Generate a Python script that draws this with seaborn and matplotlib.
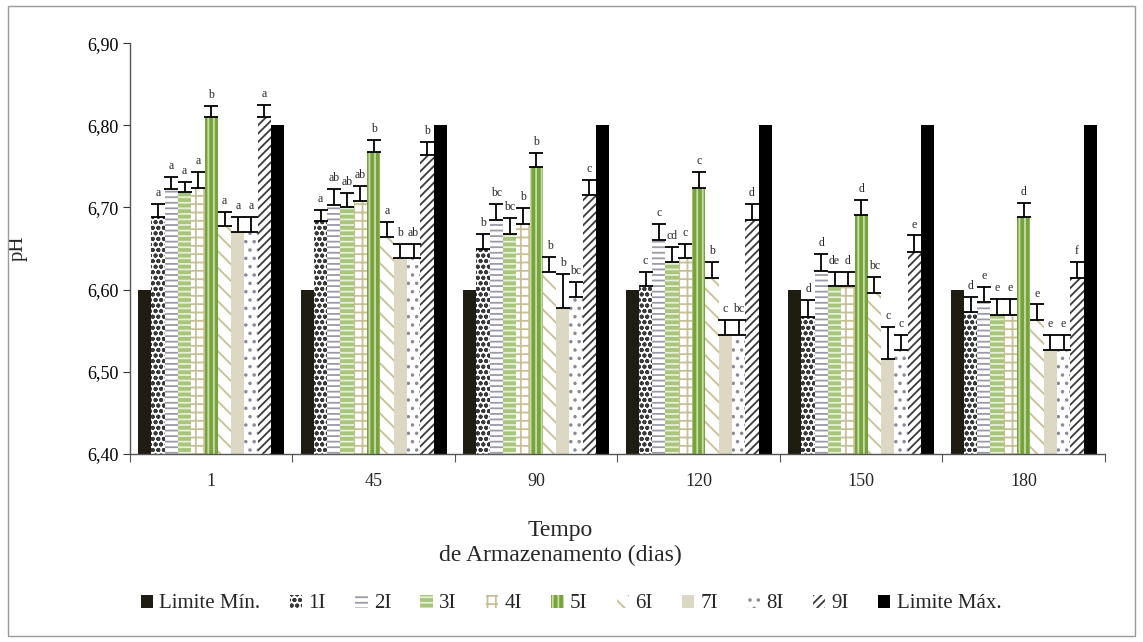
import numpy as np
import pandas as pd
import matplotlib
matplotlib.use("Agg")
import matplotlib.pyplot as plt
import seaborn as sns
from matplotlib.patches import Patch, Rectangle
from matplotlib.ticker import FuncFormatter

# dados
dias = ["1", "45", "90", "120", "150", "180"]
series = ["Limite Mín.", "1I", "2I", "3I", "4I", "5I", "6I", "7I", "8I", "9I", "Limite Máx."]

lim_min = [6.60, 6.60, 6.60, 6.60, 6.60, 6.60]
lim_max = [6.80, 6.80, 6.80, 6.80, 6.80, 6.80]
v_1I = [6.689, 6.683, 6.650, 6.604, 6.567, 6.573]
v_2I = [6.723, 6.703, 6.685, 6.661, 6.623, 6.585]
v_3I = [6.719, 6.700, 6.668, 6.634, 6.604, 6.569]
v_4I = [6.724, 6.708, 6.680, 6.638, 6.604, 6.569]
v_5I = [6.810, 6.768, 6.749, 6.724, 6.691, 6.689]
v_6I = [6.677, 6.664, 6.621, 6.614, 6.596, 6.563]
v_7I = [6.670, 6.638, 6.578, 6.545, 6.516, 6.527]
v_8I = [6.670, 6.638, 6.591, 6.545, 6.527, 6.527]
v_9I = [6.810, 6.764, 6.715, 6.685, 6.646, 6.614]

e_1I = [0.015, 0.014, 0.018, 0.018, 0.020, 0.018]
e_2I = [0.014, 0.019, 0.019, 0.019, 0.020, 0.018]
e_3I = [0.012, 0.018, 0.019, 0.018, 0.018, 0.020]
e_4I = [0.019, 0.018, 0.019, 0.018, 0.018, 0.020]
e_5I = [0.013, 0.014, 0.017, 0.019, 0.018, 0.017]
e_6I = [0.018, 0.018, 0.019, 0.020, 0.019, 0.019]
e_7I = [0.019, 0.018, 0.041, 0.018, 0.039, 0.018]
e_8I = [0.019, 0.018, 0.018, 0.018, 0.018, 0.018]
e_9I = [0.015, 0.016, 0.018, 0.019, 0.020, 0.020]

l_1I = ["a", "a", "b", "c", "d", "d"]
l_2I = ["a", "ab", "bc", "c", "d", "e"]
l_3I = ["a", "ab", "bc", "cd", "de", "e"]
l_4I = ["a", "ab", "b", "c", "d", "e"]
l_5I = ["b", "b", "b", "c", "d", "d"]
l_6I = ["a", "a", "b", "b", "bc", "e"]
l_7I = ["a", "b", "b", "c", "c", "e"]
l_8I = ["a", "ab", "bc", "bc", "c", "e"]
l_9I = ["a", "b", "c", "d", "e", "f"]

valores = [lim_min, v_1I, v_2I, v_3I, v_4I, v_5I, v_6I, v_7I, v_8I, v_9I, lim_max]
erros = [None, e_1I, e_2I, e_3I, e_4I, e_5I, e_6I, e_7I, e_8I, e_9I, None]
letras = [None, l_1I, l_2I, l_3I, l_4I, l_5I, l_6I, l_7I, l_8I, l_9I, None]

# estilo de cada serie: (cor de fundo, cor da hachura, hachura)
estilos = [
    ("#1f1d12", "#1f1d12", ""),
    ("white", "#3a3a3a", "ooo"),
    ("white", "#9a9aa8", "---"),
    ("#a8c57c", "#e6f0d6", "---"),
    ("white", "#c9bf95", "++"),
    ("#77a33c", "#c8dcaa", "|||"),
    ("white", "#c9bf95", "\\\\"),
    ("#ddd8c4", "#ddd8c4", ""),
    ("white", "#8a8a9a", ".."),
    ("white", "#3a3a3a", "////"),
    ("#000000", "#000000", ""),
]

linhas = []
for s, vals in zip(series, valores):
    for d, v in zip(dias, vals):
        linhas.append({"dias": d, "serie": s, "pH": v})
df = pd.DataFrame(linhas)

plt.rcParams["hatch.linewidth"] = 1.3
sns.set_style("white")
plt.rcParams["font.family"] = ["Liberation Serif", "DejaVu Serif"]

fig = plt.figure(figsize=(11.43, 6.42), dpi=100)
ax = fig.add_axes([0.1137, 0.2928, 0.853, 0.640])

sns.barplot(data=df, x="dias", y="pH", hue="serie", order=dias, hue_order=series,
            errorbar=None, width=0.9, ax=ax, legend=False)

barras = list(ax.containers)
for i, cont in enumerate(barras):
    fc, hc, h = estilos[i]
    for p in cont.patches:
        p.set_facecolor(fc)
        p.set_edgecolor(hc)
        p.set_hatch(h)
        p.set_linewidth(0)
    if erros[i] is None:
        continue
    xs = [p.get_x() + p.get_width() / 2 for p in cont.patches]
    ys = [p.get_height() for p in cont.patches]
    err = np.array(erros[i])
    ax.errorbar(xs, ys, yerr=[np.zeros_like(err), err], fmt="none",
                ecolor="black", elinewidth=1.3, capsize=5, capthick=1.3, zorder=5)
    for x, y, e, t in zip(xs, ys, err, letras[i]):
        ax.text(x, y + e + 0.006, t, ha="center", va="bottom", fontsize=8.5)

ax.set_ylim(6.40, 6.90)
ax.set_xlim(-0.5, 5.5)
ax.set_yticks(np.arange(6.40, 6.901, 0.10))
ax.yaxis.set_major_formatter(FuncFormatter(lambda v, _: f"{v:.2f}".replace(".", ",")))
ax.tick_params(axis="y", labelsize=13, length=5, direction="out", left=True, colors="#333333")
ax.tick_params(axis="y", labelcolor="black")

ax.set_xticks(np.arange(-0.5, 6, 1))
ax.set_xticklabels([])
ax.tick_params(axis="x", which="major", length=6, direction="out", bottom=True, color="#555555")
ax.set_xticks(np.arange(6), minor=True)
ax.set_xticklabels(dias, minor=True, fontsize=13)
ax.tick_params(axis="x", which="minor", length=0, pad=14)

for sp in ["top", "right"]:
    ax.spines[sp].set_visible(False)
for sp in ["left", "bottom"]:
    ax.spines[sp].set_color("#555555")
    ax.spines[sp].set_linewidth(1)

ax.set_ylabel("pH", fontsize=15)
ax.yaxis.set_label_coords(-0.105, 0.5)
ax.set_xlabel("Tempo\nde Armazenamento (dias)", fontsize=17, linespacing=1.25)
ax.xaxis.set_label_coords((560 - 130) / 975, -0.16)

handles = [Patch(facecolor=st[0], edgecolor=st[1], hatch=st[2], linewidth=0) for st in estilos]
fig.legend(handles, series, loc="center", bbox_to_anchor=(571 / 1143, 1 - 604 / 642),
           ncol=11, frameon=False, fontsize=15, handlelength=0.6, handleheight=0.6,
           handletextpad=0.3, columnspacing=1.4)

fig.patches.append(Rectangle((8 / 1143, 6 / 642), 1127 / 1143, 630 / 642,
                             transform=fig.transFigure, fill=False,
                             edgecolor="#9a9a9a", linewidth=1))

fig.savefig("out.png", dpi=100)
